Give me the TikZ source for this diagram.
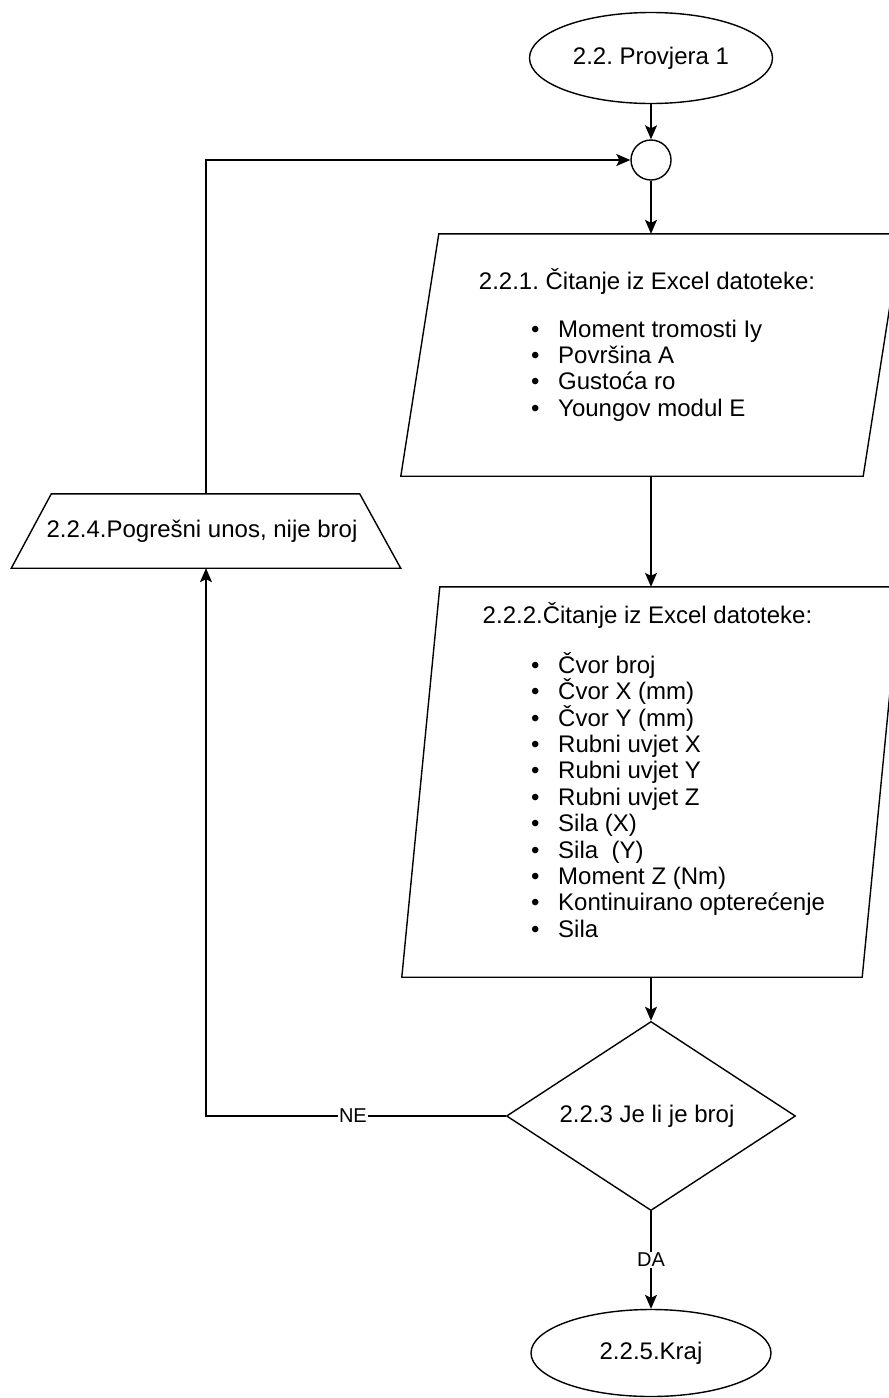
\documentclass[tikz,border=0pt]{standalone}
\usepackage{fontspec}
\setmainfont{Liberation Sans}
\frenchspacing
\usetikzlibrary{shapes.geometric,arrows.meta}
\begin{document}
\begin{tikzpicture}[x=1pt,y=-1pt,
  every node/.style={font=\fontsize{24}{26.4}\selectfont\frenchspacing, inner sep=0pt},
  arr/.style={line width=1.4pt,-{Stealth[length=14pt,width=12pt,inset=3pt]}},
  shp/.style={draw, line width=1.4pt},
  lbl/.style={fill=white, font=\fontsize{20}{22}\selectfont, inner sep=1pt},
  listbox/.style={align=left, anchor=west}
]
\useasboundingbox[fill=white] (0,0) rectangle (889,1398);
% start
\node[shp, ellipse, minimum width=243, minimum height=91] (start) at (651,58) {2.2. Provjera 1};
% junction
\node[shp, circle, minimum size=40] (circ) at (651,160) {};
% first input
\node[minimum width=500, minimum height=242] (p1) at (651,355) {};
\draw[shp] ([xshift=38pt]p1.north west) -- (p1.north east) -- ([xshift=-38pt]p1.south east) -- (p1.south west) -- cycle;
\node (p1t) at (647,281) {2.2.1. Čitanje iz Excel datoteke:};
\node[listbox] (p1l) at (531,370.5) {\makebox[27pt][l]{•}Moment tromosti Iy\\
\makebox[27pt][l]{•}Površina A\\
\makebox[27pt][l]{•}Gustoća ro\\
\makebox[27pt][l]{•}Youngov modul E};
% error output
\node[minimum width=389, minimum height=74] (tz) at (206,531) {\hspace*{-8pt}2.2.4.Pogrešni unos, nije broj};
\draw[shp] ([xshift=40pt]tz.north west) -- ([xshift=-41pt]tz.north east) -- (tz.south east) -- (tz.south west) -- cycle;
% second input
\node[minimum width=498, minimum height=390] (p2) at (651,782) {};
\draw[shp] ([xshift=38pt]p2.north west) -- (p2.north east) -- ([xshift=-38pt]p2.south east) -- (p2.south west) -- cycle;
\node (p2t) at (647.5,615) {2.2.2.Čitanje iz Excel datoteke:};
\node[listbox] (p2l) at (531,795) {\makebox[27pt][l]{•}Čvor broj\\
\makebox[27pt][l]{•}Čvor X (mm)\\
\makebox[27pt][l]{•}Čvor Y (mm)\\
\makebox[27pt][l]{•}Rubni uvjet X\\
\makebox[27pt][l]{•}Rubni uvjet Y\\
\makebox[27pt][l]{•}Rubni uvjet Z\\
\makebox[27pt][l]{•}Sila (X)\\
\makebox[27pt][l]{•}Sila\ \ (Y)\\
\makebox[27pt][l]{•}Moment Z (Nm)\\
\makebox[27pt][l]{•}Kontinuirano opterećenje\\
\makebox[27pt][l]{•}Sila};
% decision
\node[shp, diamond, minimum width=289, minimum height=167] (dia) at (651,1116) {\hspace*{-8pt}2.2.3 Je li je broj};
% end
\node[shp, ellipse, minimum width=240, minimum height=87] (end) at (651,1353) {2.2.5.Kraj};
% connectors
\draw[arr] (start) -- (circ);
\draw[arr] (circ) -- (p1.north);
\draw[arr] (p1.south) -- (p2.north);
\draw[arr] (p2.south) -- (dia.north);
\draw[arr] (dia.south) -- node[lbl]{DA} (end.north);
\draw[arr] (dia.west) -| node[lbl, pos=0.255]{NE} (tz.south);
\draw[arr] (tz.north) |- (circ.west);
\end{tikzpicture}
\end{document}
